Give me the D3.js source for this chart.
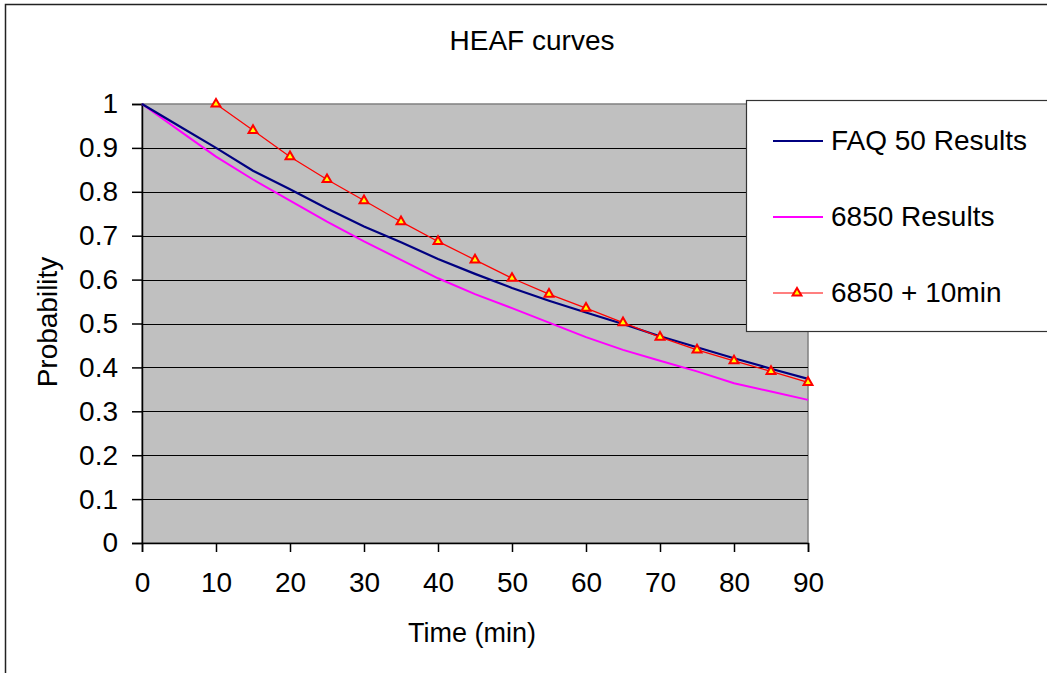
<!DOCTYPE html>
<html>
<head>
<meta charset="utf-8">
<script src="https://cdn.jsdelivr.net/npm/d3@7"></script>
<style>
  body { margin:0; background:#fff; }
  text { font-family: "Liberation Sans", Arial, sans-serif; fill:#000; }
</style>
</head>
<body>
<div id="chart"></div>
<script>
// data
var times = [0,5,10,15,20,25,30,35,40,45,50,55,60,65,70,75,80,85,90];
var faq50 = [1,0.95,0.9,0.848,0.806,0.762,0.721,0.685,0.647,0.613,0.581,0.552,0.525,0.499,0.471,0.446,0.421,0.397,0.374];
var res6850 = [1,0.94,0.88,0.828,0.78,0.732,0.687,0.645,0.603,0.567,0.535,0.502,0.469,0.44,0.415,0.391,0.364,0.345,0.326];
var times10 = [10,15,20,25,30,35,40,45,50,55,60,65,70,75,80,85,90];
var res6850p10 = [1,0.94,0.88,0.828,0.78,0.732,0.687,0.645,0.603,0.567,0.535,0.502,0.469,0.44,0.415,0.391,0.366];
var xTicks = [0,10,20,30,40,50,60,70,80,90];
var yTicks = [0,0.1,0.2,0.3,0.4,0.5,0.6,0.7,0.8,0.9,1];
var seriesNames = ["FAQ 50 Results","6850 Results","6850 + 10min"];

var W = 1047, H = 673;
var margin = { top:104, right:239, bottom:130, left:142 };
var width = W - margin.left - margin.right;   // 666
var height = H - margin.top - margin.bottom;  // 439

var svg = d3.select("#chart").append("svg")
  .attr("width", W)
  .attr("height", H);

// outer chart border (right/bottom run off the picture)
svg.append("rect")
  .attr("x", 5.5).attr("y", 4.5)
  .attr("width", 1100).attr("height", 700)
  .attr("fill", "none").attr("stroke", "#222").attr("stroke-width", 1.5);

svg.append("text")
  .attr("x", 532).attr("y", 50)
  .attr("text-anchor", "middle")
  .style("font-size", "28px")
  .text("HEAF curves");

var g = svg.append("g")
  .attr("transform", "translate(" + margin.left + "," + margin.top + ")");

var x = d3.scaleLinear().domain([0, 90]).range([0, width]);
var y = d3.scaleLinear().domain([0, 1]).range([height, 0]);

// plot area
g.append("rect")
  .attr("width", width).attr("height", height)
  .attr("fill", "#c0c0c0")
  .attr("stroke", "#808080").attr("stroke-width", 1.5);

// gridlines
g.selectAll(".grid").data(yTicks.slice(1, -1))
  .enter().append("line")
    .attr("class", "grid")
    .attr("x1", 0).attr("x2", width)
    .attr("y1", (d)=>{return Math.round(y(d)) + 0.5})
    .attr("y2", (d)=>{return Math.round(y(d)) + 0.5})
    .attr("stroke", "#000").attr("stroke-width", 1);

// axes
var xAxisCall = d3.axisBottom(x).tickValues(xTicks).tickSize(9).tickPadding(20).tickFormat(d3.format("d"));
var xAxis = g.append("g")
  .attr("class", "x axis")
  .attr("transform", "translate(0," + height + ")")
  .call(xAxisCall);

var yAxisCall = d3.axisLeft(y).tickValues(yTicks).tickSize(10).tickPadding(14).tickFormat((d)=>{return d3.format("")(+d.toFixed(1))});
var yAxis = g.append("g")
  .attr("class", "y axis")
  .call(yAxisCall);

[xAxis, yAxis].forEach((a)=>{
  a.select(".domain").attr("stroke", "#000").attr("stroke-width", 1.5);
  a.selectAll(".tick line").attr("stroke", "#000").attr("stroke-width", 1.5);
  a.selectAll("text")
    .style("font-family", "'Liberation Sans', Arial, sans-serif")
    .style("font-size", "28px")
    .attr("fill", "#000");
});
xAxis.selectAll("text").attr("dy", "0.71em");

// axis titles
svg.append("text")
  .attr("x", 472).attr("y", 642)
  .attr("text-anchor", "middle")
  .style("font-size", "27px")
  .text("Time (min)");

svg.append("text")
  .attr("transform", "translate(57,322) rotate(-90)")
  .attr("text-anchor", "middle")
  .style("font-size", "28px")
  .text("Probability");

// lines
var line = d3.line()
  .x((d)=>{return x(d[0])})
  .y((d)=>{return y(d[1])});

g.append("path")
  .datum(d3.zip(times, res6850))
  .attr("d", line)
  .attr("fill", "none").attr("stroke", "#ff00ff").attr("stroke-width", 2);

g.append("path")
  .datum(d3.zip(times, faq50))
  .attr("d", line)
  .attr("fill", "none").attr("stroke", "#000080").attr("stroke-width", 2.2);

g.append("path")
  .datum(d3.zip(times10, res6850p10))
  .attr("d", line)
  .attr("fill", "none").attr("stroke", "#ff0000").attr("stroke-width", 1.2);

var tri = d3.symbol().type(d3.symbolTriangle).size(34);

g.selectAll(".mark").data(d3.zip(times10, res6850p10))
  .enter().append("path")
    .attr("class", "mark")
    .attr("d", tri)
    .attr("transform", (d)=>{return "translate(" + x(d[0]) + "," + y(d[1]) + ")"})
    .attr("fill", "#ffff00").attr("stroke", "#ff0000").attr("stroke-width", 2);

// legend
var legend = svg.append("g");
legend.append("rect")
  .attr("x", 746.5).attr("y", 100.5)
  .attr("width", 400).attr("height", 231)
  .attr("fill", "#fff").attr("stroke", "#333").attr("stroke-width", 1.2);

var legColors = ["#000080", "#ff00ff", "#ff0000"];
var legY = [141, 217, 293];
var legW = [2.2, 2, 1.2];

seriesNames.forEach((name, i)=>{
  legend.append("line")
    .attr("x1", 773).attr("x2", 823)
    .attr("y1", legY[i]).attr("y2", legY[i])
    .attr("stroke", legColors[i]).attr("stroke-width", legW[i]);
  legend.append("text")
    .attr("x", 831).attr("y", legY[i] + 9)
    .style("font-size", "28px")
    .text(name);
});
legend.append("path")
  .attr("d", tri)
  .attr("transform", "translate(797," + legY[2] + ")")
  .attr("fill", "#ffff00").attr("stroke", "#ff0000").attr("stroke-width", 2);
</script>
</body>
</html>
